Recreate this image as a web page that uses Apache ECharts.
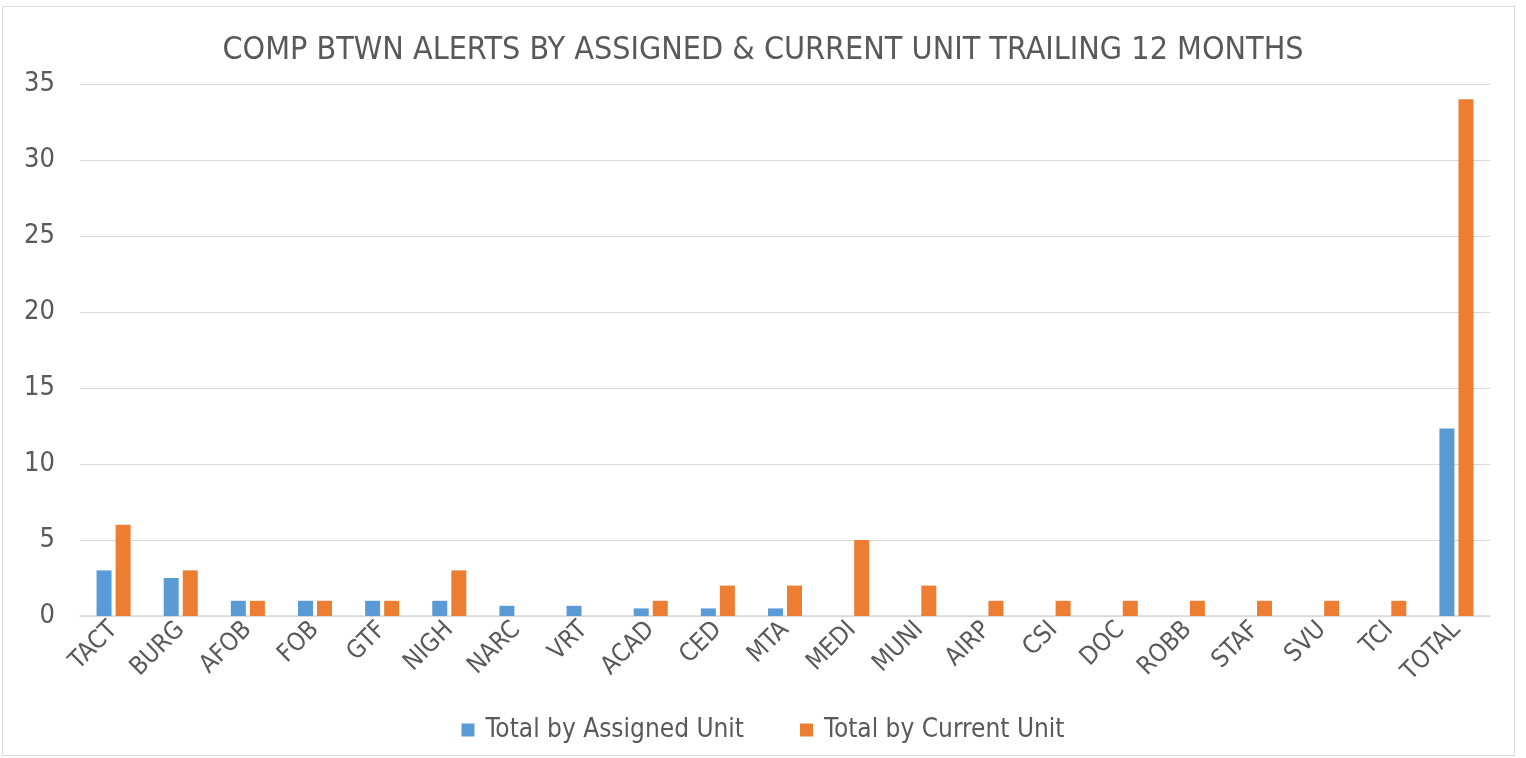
<!DOCTYPE html>
<html><head><meta charset="utf-8">
<script src="https://cdn.jsdelivr.net/npm/echarts@6/dist/echarts.min.js"></script>
<style>html,body{margin:0;padding:0;background:#fff}#c{width:1526px;height:758px}
#b{position:absolute;left:2px;top:6px;width:1511px;height:748px;border:1px solid #d9d9d9;pointer-events:none}</style>
</head><body><div id="c"></div><div id="b"></div>
<script>
const categories = ["TACT","BURG","AFOB","FOB","GTF","NIGH","NARC","VRT","ACAD","CED","MTA","MEDI","MUNI","AIRP","CSI","DOC","ROBB","STAF","SVU","TCI","TOTAL"];
const assigned = [3,2.5,1,1,1,1,0.67,0.67,0.5,0.5,0.5,0,0,0,0,0,0,0,0,0,12.33];
const current = [6,3,1,1,1,3,0,0,1,2,2,5,2,1,1,1,1,1,1,1,34];
const yTicks = [0,5,10,15,20,25,30,35];
const font = "'DejaVu Sans Condensed','Liberation Sans',sans-serif";
const chart = echarts.init(document.getElementById('c'));
chart.setOption({
  animation:false,
  title:{text:"COMP BTWN ALERTS BY ASSIGNED & CURRENT UNIT TRAILING 12 MONTHS",left:'center',top:30,
    textStyle:{fontFamily:font,fontSize:32,fontWeight:'normal',color:'#595959'}},
  legend:{bottom:10,left:'center',itemWidth:13,itemHeight:13,itemGap:56,icon:'rect',
    textStyle:{fontFamily:font,fontSize:26,color:'#595959',padding:[0,0,0,6]}},
  grid:{left:80,right:36,top:84,bottom:142},
  xAxis:{type:'category',data:categories,
    axisLine:{lineStyle:{color:'#d9d9d9',width:1.5}},axisTick:{show:false},
    axisLabel:{rotate:45,fontFamily:font,fontSize:25,color:'#595959',margin:10,interval:0}},
  yAxis:{type:'value',min:0,max:35,interval:5,
    axisLine:{show:false},axisTick:{show:false},
    splitLine:{lineStyle:{color:'#d9d9d9',width:1}},
    axisLabel:{fontFamily:font,fontSize:27,color:'#595959',margin:25,
      formatter:v=>yTicks.includes(v)?String(v):''}},
  series:[
    {name:'Total by Assigned Unit',type:'bar',data:assigned,barWidth:15,barGap:'27%',
      itemStyle:{color:'#5b9bd5'}},
    {name:'Total by Current Unit',type:'bar',data:current,barWidth:15,
      itemStyle:{color:'#ed7d31'}}
  ]
});
</script></body></html>
